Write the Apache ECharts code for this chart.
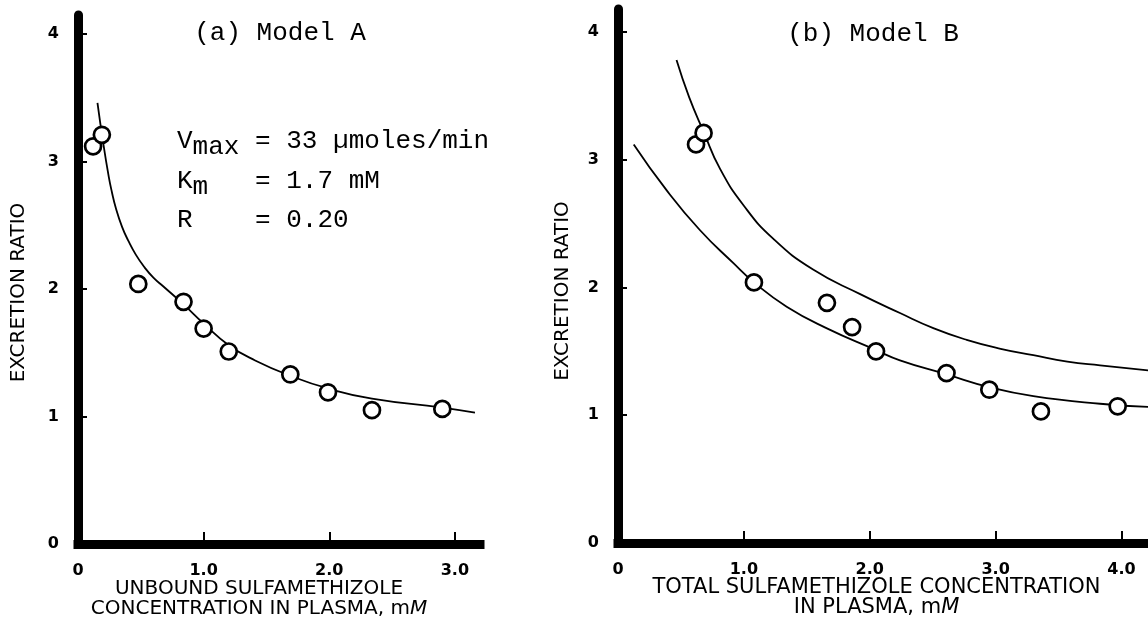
<!DOCTYPE html>
<html><head><meta charset="utf-8">
<script src="https://cdn.jsdelivr.net/npm/echarts@6/dist/echarts.min.js"></script>
<style>html,body{margin:0;padding:0;background:#fff}#c{width:1148px;height:624px}</style>
</head><body><div id="c"></div>
<script>
// ---- data ----
const yTicks = [0, 1, 2, 3, 4];
const yTickLabels = ['0', '1', '2', '3', '4'];
const xTicksA = [0, 1, 2, 3];
const xTickLabelsA = ['0', '1.0', '2.0', '3.0'];
const xTicksB = [0, 1, 2, 3, 4];
const xTickLabelsB = ['0', '1.0', '2.0', '3.0', '4.0'];

// Panel (a) Model A: unbound concentration (mM) vs excretion ratio
const obsA_x = [0.12, 0.19, 0.48, 0.84, 1.00, 1.20, 1.69, 1.99, 2.34, 2.90];
const obsA_y = [3.12, 3.21, 2.04, 1.90, 1.69, 1.51, 1.33, 1.19, 1.05, 1.06];
const fitA_x = [0.155, 0.20, 0.245, 0.27, 0.30, 0.35, 0.40, 0.46, 0.53, 0.60, 0.68, 0.84, 1.00, 1.20, 1.41, 1.69, 1.99, 2.34, 2.90, 3.16];
const fitA_y = [3.46, 3.15, 2.88, 2.76, 2.64, 2.49, 2.38, 2.27, 2.17, 2.09, 2.02, 1.88, 1.73, 1.56, 1.44, 1.32, 1.22, 1.14, 1.07, 1.03];

// Panel (b) Model B: total concentration (mM) vs excretion ratio
const obsB_x = [0.62, 0.68, 1.08, 1.66, 1.86, 2.05, 2.61, 2.95, 3.36, 3.97];
const obsB_y = [3.12, 3.21, 2.04, 1.88, 1.69, 1.50, 1.33, 1.20, 1.03, 1.07];
const upperB_x = [0.465, 0.565, 0.68, 0.81, 1.00, 1.235, 1.55, 1.92, 2.24, 2.51, 2.77, 3.04, 3.30, 3.57, 3.83, 4.22];
const upperB_y = [3.78, 3.49, 3.22, 2.93, 2.64, 2.38, 2.14, 1.95, 1.80, 1.68, 1.59, 1.52, 1.47, 1.42, 1.39, 1.35];
const lowerB_x = [0.125, 0.387, 0.65, 0.917, 1.08, 1.34, 1.66, 2.05, 2.24, 2.61, 2.95, 3.30, 3.83, 4.22];
const lowerB_y = [3.12, 2.76, 2.45, 2.19, 2.04, 1.85, 1.68, 1.51, 1.43, 1.32, 1.22, 1.15, 1.09, 1.065];

const titleA = '(a) Model A';
const titleB = '(b) Model B';
const yName = 'EXCRETION RATIO';
const xNameA = 'UNBOUND SULFAMETHIZOLE\nCONCENTRATION IN PLASMA, m{i|M}';
const xNameB = 'TOTAL SULFAMETHIZOLE CONCENTRATION\nIN PLASMA, m{i|M}';
const paramLines = [
  '{n|V}{s|max}{n| = 33 µmoles/min}',
  '{n|K}{s|m}{n|   = 1.7 mM}',
  '{n|R    = 0.20}'
];

// ---- helpers ----
const pairs = (xs, ys) => xs.map((x, i) => [x, ys[i]]);
const BLACK = '#000';
const SANS = 'DejaVu Sans';
const MONO = 'Liberation Mono';

function xAxisCfg(gi, max, ticks, labels, name, fs, padR) {
  return {
    type: 'value', gridIndex: gi, min: 0, max: max,
    axisLine: { show: true, onZero: false, lineStyle: { color: BLACK, width: 9, cap: 'square' } },
    axisTick: { show: true, inside: true, length: 12, customValues: ticks, lineStyle: { color: BLACK, width: 2 } },
    axisLabel: { show: true, customValues: ticks, formatter: v => labels[ticks.indexOf(v)], margin: 19,
      color: BLACK, fontFamily: SANS, fontWeight: 'bold', fontSize: 16 },
    splitLine: { show: false },
    name: name, nameLocation: 'middle', nameGap: 35, nameMoveOverlap: false,
    nameTextStyle: { color: BLACK, fontFamily: SANS, fontSize: fs, lineHeight: 20, align: 'center',
      padding: [0, padR, 0, 0],
      rich: { i: { fontFamily: SANS, fontSize: fs, fontStyle: 'italic', color: BLACK, lineHeight: 20 } } }
  };
}
function yAxisCfg(gi, max, gap, padEnd) {
  return {
    type: 'value', gridIndex: gi, min: 0, max: max,
    axisLine: { show: true, onZero: false, lineStyle: { color: BLACK, width: 9 } },
    axisTick: { show: true, inside: true, length: 9, customValues: yTicks, lineStyle: { color: BLACK, width: 2 } },
    axisLabel: { show: true, customValues: yTicks, formatter: v => yTickLabels[yTicks.indexOf(v)], margin: 19,
      color: BLACK, fontFamily: SANS, fontWeight: 'bold', fontSize: 16 },
    splitLine: { show: false },
    name: yName, nameLocation: 'middle', nameGap: gap, nameMoveOverlap: false,
    nameTextStyle: { color: BLACK, fontFamily: SANS, fontSize: 20, padding: [0, padEnd, 0, 0] }
  };
}
const scatterStyle = { color: '#fff', borderColor: BLACK, borderWidth: 2.7, opacity: 1 };
const lineStyle = { color: BLACK, width: 1.8 };
const monoRich = {
  n: { fontFamily: MONO, fontSize: 26, fill: BLACK, color: BLACK, lineHeight: 28, verticalAlign: 'top' },
  s: { fontFamily: MONO, fontSize: 26, fill: BLACK, color: BLACK, lineHeight: 28, verticalAlign: 'top', padding: [6, 0, 0, 0] }
};

const chart = echarts.init(document.getElementById('c'), null, { renderer: 'canvas' });
chart.setOption({
  animation: false,
  backgroundColor: '#fff',
  grid: [
    { left: 78, top: 15, width: 402, height: 529, outerBoundsMode: 'none', containLabel: false },
    { left: 618, top: 9, width: 579, height: 534, outerBoundsMode: 'none', containLabel: false }
  ],
  xAxis: [
    xAxisCfg(0, 3.2, xTicksA, xTickLabelsA, xNameA, 20, 40),
    xAxisCfg(1, 4.6, xTicksB, xTickLabelsB, xNameB, 21, 62)
  ],
  yAxis: [ yAxisCfg(0, 4.15, 49, 26), yAxisCfg(1, 4.18, 45, 30) ],
  graphic: [
    { type: 'text', x: 280, y: 33, style: { text: titleA, font: '26px "Liberation Mono"', fill: BLACK, align: 'center', verticalAlign: 'middle', textAlign: 'center', textVerticalAlign: 'middle' } },
    { type: 'text', x: 873, y: 34, style: { text: titleB, font: '26px "Liberation Mono"', fill: BLACK, align: 'center', verticalAlign: 'middle', textAlign: 'center', textVerticalAlign: 'middle' } },
    { type: 'text', x: 177, y: 128, style: { text: paramLines[0], rich: monoRich, fill: BLACK } },
    { type: 'text', x: 177, y: 168, style: { text: paramLines[1], rich: monoRich, fill: BLACK } },
    { type: 'text', x: 177, y: 207, style: { text: paramLines[2], rich: monoRich, fill: BLACK } }
  ],
  series: [
    { type: 'line', xAxisIndex: 0, yAxisIndex: 0, data: pairs(fitA_x, fitA_y), smooth: true, showSymbol: false, lineStyle: lineStyle, z: 2 },
    { type: 'scatter', xAxisIndex: 0, yAxisIndex: 0, data: pairs(obsA_x, obsA_y), symbol: 'circle', symbolSize: 16, itemStyle: scatterStyle, z: 3 },
    { type: 'line', xAxisIndex: 1, yAxisIndex: 1, data: pairs(upperB_x, upperB_y), smooth: true, showSymbol: false, lineStyle: lineStyle, z: 2 },
    { type: 'line', xAxisIndex: 1, yAxisIndex: 1, data: pairs(lowerB_x, lowerB_y), smooth: true, showSymbol: false, lineStyle: lineStyle, z: 2 },
    { type: 'scatter', xAxisIndex: 1, yAxisIndex: 1, data: pairs(obsB_x, obsB_y), symbol: 'circle', symbolSize: 16, itemStyle: scatterStyle, z: 3 }
  ]
});
</script></body></html>
